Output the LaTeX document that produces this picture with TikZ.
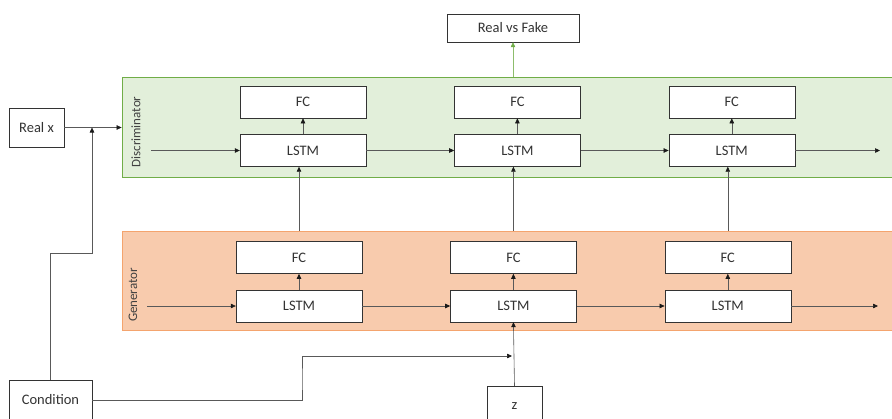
\documentclass[tikz,border=0pt]{standalone}
\usepackage{fontspec}
\setmainfont{Carlito}
\usetikzlibrary{arrows.meta,positioning}

\definecolor{discfill}{HTML}{E2EFDA}
\definecolor{discline}{HTML}{70AD47}
\definecolor{genfill}{HTML}{F8CBAD}
\definecolor{genline}{HTML}{F4A46E}

\begin{document}
\begin{tikzpicture}[x=1pt, y=-1pt,
  node distance=16pt and 88pt,
  box/.style={draw=black!80, fill=white, minimum width=126pt, minimum height=32pt, inner sep=2pt, text=black!80, font=\fontsize{14.5}{16}\selectfont},
  io/.style={draw=black!80, fill=white, minimum height=40pt, inner sep=2pt, text=black!80, font=\fontsize{14.5}{16}\selectfont},
  panel/.style={draw=#1line, fill=#1fill, line width=0.8pt, minimum width=770pt, inner sep=0pt},
  tag/.style={rotate=90, font=\fontsize{13}{15}\selectfont, text=black!75},
  arr/.style={draw=black!65, line width=0.6pt, -{Triangle[length=5pt, width=4.5pt, color=black!90]}},
]
\useasboundingbox (0,0) rectangle (892,418);

% panels
\node[panel=disc, minimum height=100pt] (disc) at (507,127) {};
\node[panel=gen, minimum height=99pt] (gen) at (507,280.5) {};
\node[tag] (disclab) at (136,132) {Discriminator};
\node[tag] (genlab) at (133,295) {Generator};

% discriminator
\node[box] (d1) at (303,150.5) {LSTM};
\node[box, right=of d1] (d2) {LSTM};
\node[box, right=of d2] (d3) {LSTM};
\node[box, above=of d1] (df1) {FC};
\node[box, above=of d2] (df2) {FC};
\node[box, above=of d3] (df3) {FC};

% generator
\node[box] (g1) at (299,306) {LSTM};
\node[box, right=of g1] (g2) {LSTM};
\node[box, right=of g2] (g3) {LSTM};
\node[box, above=of g1] (gf1) {FC};
\node[box, above=of g2] (gf2) {FC};
\node[box, above=of g3] (gf3) {FC};

% inputs / output
\node[io, minimum width=55pt, minimum height=39pt] (realx) at (36.5,127.5) {Real x};
\node[io, minimum width=83pt] (cond) at (50.5,400) {Condition};
\node[io, minimum width=55pt] (z) at (514.5,406) {z};
\node[io, minimum width=132pt, minimum height=28pt] (rf) at (513,28) {Real vs Fake};

\coordinate (din) at (151,150.5);
\coordinate (dout) at (880,150.5);
\coordinate (gin) at (147,306);
\coordinate (gout) at (878,306);
\coordinate (jog) at (92,253);
\coordinate (join) at (92,127.5);
\coordinate (cbend) at (302,380);
\coordinate (zjoin) at (512,356);

\draw[arr] (din) -- (d1);
\draw[arr] (d1) -- (d2);
\draw[arr] (d2) -- (d3);
\draw[arr] (d3) -- (dout);
\draw[arr] (gin) -- (g1);
\draw[arr] (g1) -- (g2);
\draw[arr] (g2) -- (g3);
\draw[arr] (g3) -- (gout);
\foreach \i in {1,2,3} {
  \draw[arr] (d\i) -- (df\i);
  \draw[arr] (g\i) -- (gf\i);
  \draw[arr] (gen.north -| gf\i.north) -- (gf\i.north |- d\i.south);
}
\draw[arr, draw=discline!80, -{Triangle[length=5pt, width=4.5pt, color=discline]}] (disc.north -| rf.south) -- (rf.south);
\draw[arr] (realx.east |- join) -- (disc.west |- join);
\draw[arr] (cond.north) |- (jog) -- (join);
\draw[arr] (cond.east) -| (cbend) |- (zjoin);
\draw[arr] (z.north) -- (g2.south);
\end{tikzpicture}
\end{document}
